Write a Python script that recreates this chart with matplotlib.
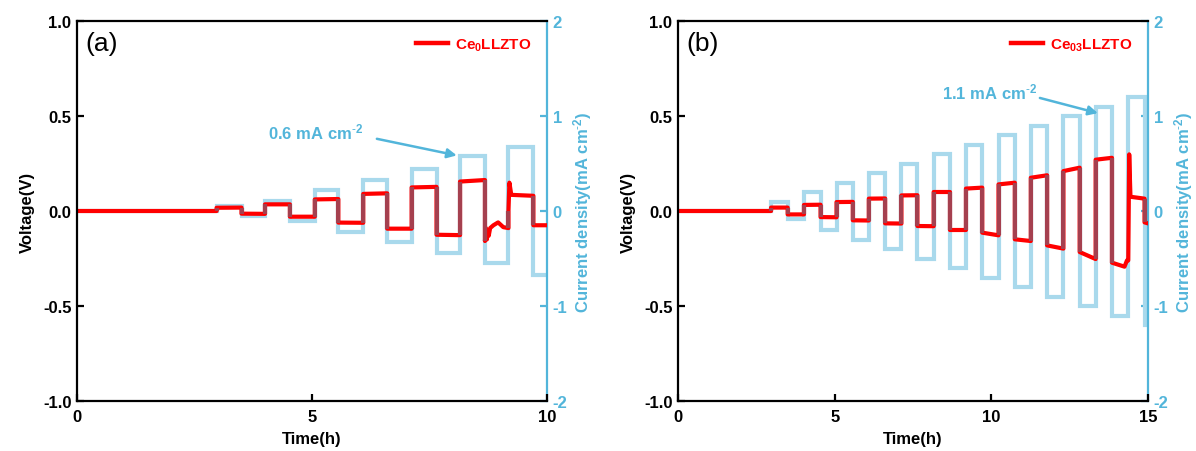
import matplotlib
matplotlib.use("Agg")
import matplotlib.pyplot as plt

plt.rcParams['font.family'] = ['Liberation Sans', 'DejaVu Sans']
plt.rcParams['mathtext.fontset'] = 'custom'
plt.rcParams['mathtext.rm'] = 'Liberation Sans'
plt.rcParams['mathtext.bf'] = 'Liberation Sans:bold'
plt.rcParams['mathtext.it'] = 'Liberation Sans:italic'

# ---- panel (a): Ce0LLZTO, 0-10 h ----
edges_a = [0, 2.97, 3.50, 4.00, 4.53, 5.06, 5.56, 6.09, 6.60, 7.12, 7.65,
           8.15, 8.68, 9.18, 9.71, 10.0]
current_a = [0, 0.05, -0.05, 0.11, -0.11, 0.22, -0.22, 0.33, -0.33,
             0.44, -0.44, 0.58, -0.55, 0.67, -0.67]
v_start_a = [0, 0.017, -0.014, 0.035, -0.030, 0.061, -0.061, 0.090, -0.093,
             0.124, -0.125, 0.155, -0.158, 0.149, -0.075]
v_end_a = [0, 0.018, -0.015, 0.035, -0.030, 0.063, -0.062, 0.093, -0.093,
           0.127, -0.127, 0.163, -0.090, 0.080, -0.075]
# short-circuit transient in the 8.68-9.18 h half cycle and the spike after it
sc_t_a = [8.68, 8.70, 8.72, 8.74, 8.76, 8.79, 8.86, 8.96, 9.07, 9.18]
sc_v_a = [-0.158, -0.09, -0.15, -0.10, -0.13, -0.09, -0.075, -0.06, -0.085, -0.09]
sp_t_a = [9.18, 9.20, 9.24, 9.71]
sp_v_a = [0.00, 0.149, 0.085, 0.080]

# ---- panel (b): Ce03LLZTO, 0-15 h ----
edges_b = [0, 2.97, 3.50, 4.02, 4.55, 5.06, 5.58, 6.09, 6.61, 7.13, 7.64,
           8.16, 8.68, 9.19, 9.71, 10.23, 10.75, 11.26, 11.78, 12.30, 12.82,
           13.33, 13.85, 14.37, 14.89, 15.0]
current_b = [0, 0.1, -0.08, 0.2, -0.2, 0.3, -0.3, 0.4, -0.4, 0.5, -0.5,
             0.6, -0.6, 0.7, -0.7, 0.8, -0.8, 0.9, -0.9, 1.0, -1.0,
             1.1, -1.1, 1.2, -1.2]
v_start_b = [0, 0.018, -0.018, 0.032, -0.032, 0.047, -0.049, 0.065, -0.065,
             0.082, -0.079, 0.100, -0.100, 0.118, -0.114, 0.140, -0.149,
             0.175, -0.181, 0.210, -0.216, 0.270, -0.272, 0.298, -0.060]
v_end_b = [0, 0.018, -0.018, 0.033, -0.033, 0.048, -0.050, 0.066, -0.066,
           0.083, -0.080, 0.100, -0.100, 0.123, -0.128, 0.149, -0.158,
           0.188, -0.198, 0.228, -0.253, 0.280, -0.260, 0.065, -0.065]
# polarisation creep at the end of the last discharge and the final spike
tail_t_b = [13.85, 14.25, 14.33, 14.37]
tail_v_b = [-0.272, -0.293, -0.260, -0.260]
sp_t_b = [14.37, 14.40, 14.44, 14.89]
sp_v_b = [-0.26, 0.298, 0.075, 0.065]

volt_ticks = [-1.0, -0.5, 0.0, 0.5, 1.0]
cur_ticks = [-2, -1, 0, 1, 2]

RED = '#ff0000'
DARK = '#a5404f'     # voltage line where it sits on the current trace
LIGHT = '#a9d9ec'
AXBLUE = '#52b5da'


def step_path(edges, levels):
    t, y = [], []
    for i, lv in enumerate(levels):
        t += [edges[i], edges[i + 1]]
        y += [lv, lv]
    return t, y


def voltage_path(edges, vs, ve, extra):
    t, v = [], []
    for i in range(len(edges) - 1):
        if i in extra:
            et, ev = extra[i]
            t += list(et)
            v += list(ev)
        else:
            t += [edges[i], edges[i + 1]]
            v += [vs[i], ve[i]]
    return t, v


fig = plt.figure(figsize=(11.96, 4.52), dpi=100)

SUP = '$^{\\mathbf{\\text{-}2}}$'
panels = [
    dict(pos=[77 / 1196, 50 / 452, 470 / 1196, 380 / 452], xmax=10,
         xticks=[0, 5, 10], edges=edges_a, cur=current_a, vs=v_start_a,
         ve=v_end_a, extra={12: (sc_t_a, sc_v_a), 13: (sp_t_a, sp_v_a)},
         tag='(a)', name='Ce$_{\\mathbf{0}}$LLZTO',
         note='0.6 mA cm' + SUP, note_xy=(5.07, 0.84),
         arrow_from=(6.38, 0.76), arrow_to=(8.08, 0.585)),
    dict(pos=[678 / 1196, 50 / 452, 470 / 1196, 380 / 452], xmax=15,
         xticks=[0, 5, 10, 15], edges=edges_b, cur=current_b, vs=v_start_b,
         ve=v_end_b, extra={22: (tail_t_b, tail_v_b), 23: (sp_t_b, sp_v_b)},
         tag='(b)', name='Ce$_{\\mathbf{03}}$LLZTO',
         note='1.1 mA cm' + SUP, note_xy=(9.96, 1.26),
         arrow_from=(11.55, 1.19), arrow_to=(13.40, 1.03)),
]

for p in panels:
    ax = fig.add_axes(p['pos'])
    ax2 = ax.twinx()
    ax.set_zorder(ax2.get_zorder() + 1)
    ax.patch.set_visible(False)

    tc, yc = step_path(p['edges'], p['cur'])
    ax2.plot(tc, yc, color=LIGHT, lw=3.0, solid_joinstyle='miter')

    tv, vv = voltage_path(p['edges'], p['vs'], p['ve'], p['extra'])
    ax.plot(tv, vv, color=RED, lw=3.0, label=p['name'])
    # switching steps of the voltage overlap the current trace and look darker
    for i in range(1, len(tv)):
        if tv[i] == tv[i - 1] and tv[i] > 0:
            ax.plot([tv[i - 1], tv[i]], [vv[i - 1], vv[i]], color=DARK,
                    lw=3.0, solid_capstyle='butt')

    ax.set_xlim(0, p['xmax'])
    ax.set_ylim(-1.0, 1.0)
    ax2.set_ylim(-2, 2)
    ax.set_xticks(p['xticks'])
    ax.set_yticks(volt_ticks)
    ax.set_yticklabels(['%.1f' % v for v in volt_ticks])
    ax2.set_yticks(cur_ticks)
    ax2.set_yticklabels(['%d' % v for v in cur_ticks])

    for a in (ax, ax2):
        for s in a.spines.values():
            s.set_linewidth(1.6)
    ax2.spines['right'].set_color(AXBLUE)
    ax2.spines['left'].set_visible(False)
    ax2.spines['top'].set_visible(False)
    ax2.spines['bottom'].set_visible(False)
    ax.spines['right'].set_visible(False)

    ax.tick_params(direction='in', length=5, width=1.6, labelsize=12, pad=4)
    ax.tick_params(axis='x', top=False, pad=6)
    ax2.tick_params(direction='in', length=5, width=1.6, labelsize=12,
                    colors=AXBLUE, pad=4)
    for lab in ax.get_xticklabels() + ax.get_yticklabels() + ax2.get_yticklabels():
        lab.set_fontweight('bold')

    ax.set_xlabel('Time(h)', fontsize=12, fontweight='bold', labelpad=5)
    ax.set_ylabel('Voltage(V)', fontsize=12, fontweight='bold', labelpad=6)
    ax2.set_ylabel('Current density(mA cm' + SUP + ')', fontsize=12,
                   fontweight='bold', color=AXBLUE, rotation=90, labelpad=3)

    ax.text(0.018, 0.975, p['tag'], transform=ax.transAxes, fontsize=19,
            ha='left', va='top')

    leg = ax.legend(loc='upper right', frameon=False, handlelength=2.1,
                    handletextpad=0.5, borderaxespad=0.6,
                    prop=dict(weight='bold', size=11))
    for txt in leg.get_texts():
        txt.set_color(RED)
    for h in leg.get_lines():
        h.set_linewidth(3.2)

    ax2.annotate('', xy=p['arrow_to'], xytext=p['arrow_from'],
                 arrowprops=dict(arrowstyle='-|>', color=AXBLUE, lw=1.8,
                                 mutation_scale=14, shrinkA=0, shrinkB=0))
    ax2.text(p['note_xy'][0], p['note_xy'][1], p['note'], color=AXBLUE,
             fontsize=12, fontweight='bold', ha='center', va='center')

fig.savefig('out.png', dpi=100)
